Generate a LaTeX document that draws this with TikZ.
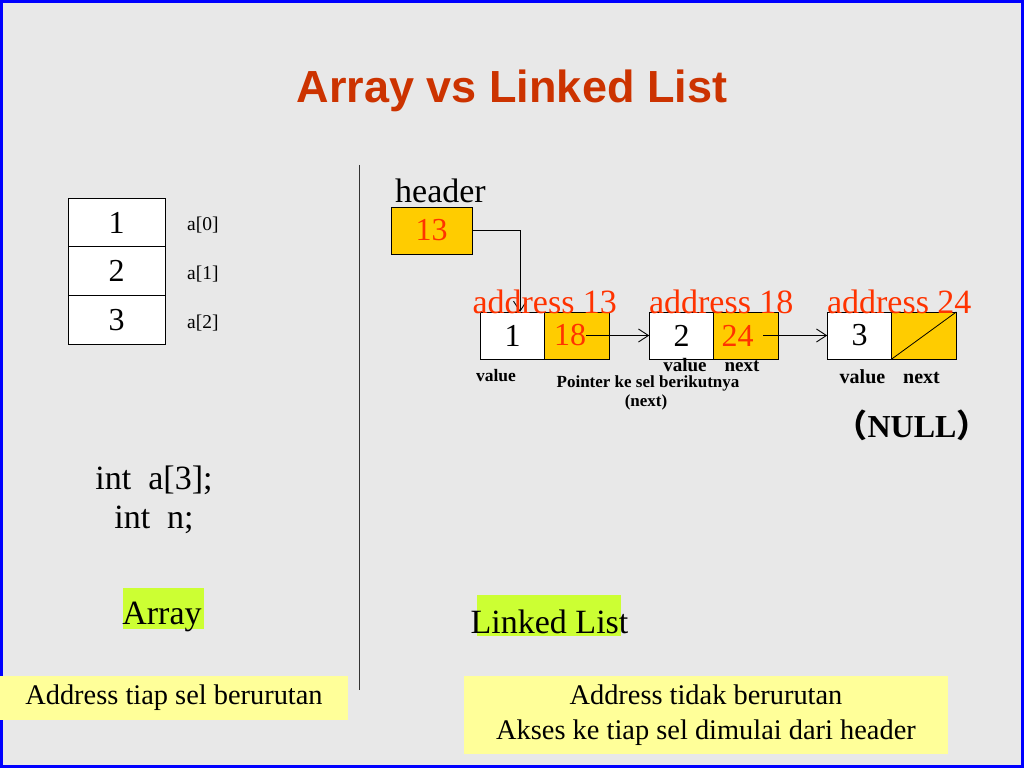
\documentclass[tikz,border=0pt]{standalone}
\usepackage{fontspec}
\setmainfont{Liberation Serif}
\newfontfamily\titlefont{Liberation Sans}
\newfontfamily\cjk{Noto Sans CJK SC}
\usetikzlibrary{positioning,arrows.meta}
\definecolor{slidebg}{HTML}{E8E8E8}
\definecolor{titlered}{HTML}{CC3300}
\definecolor{cellorange}{HTML}{FFCC00}
\definecolor{addrred}{HTML}{FF3300}
\definecolor{hlgreen}{HTML}{CCFF33}
\definecolor{noteyellow}{HTML}{FFFF99}

\begin{document}
\begin{tikzpicture}[x=1pt,y=1pt,
  >={Straight Barb[length=10pt,width=13pt]},
  cell/.style={draw,line width=0.8pt,fill=white,inner sep=0pt,outer sep=0pt,
    minimum width=64.5pt,minimum height=47pt,font=\fontsize{32}{36}\selectfont},
  ptr/.style={cell,fill=cellorange},
  arr/.style={cell,minimum width=97pt,minimum height=48.7pt},
  idx/.style={inner sep=0pt,font=\fontsize{19.5}{22}\selectfont},
  body/.style={inner sep=0pt,font=\fontsize{34}{39}\selectfont},
  addr/.style={inner sep=0pt,anchor=base,text=addrred,font=\fontsize{34}{39}\selectfont},
  num/.style={inner sep=0pt,text=addrred,font=\fontsize{32}{36}\selectfont},
  tag/.style={inner sep=0pt,anchor=base,font=\bfseries\fontsize{#1}{#1}\selectfont},
  tag/.default=17.5,
  note/.style={fill=noteyellow,inner sep=0pt,align=center,font=\fontsize{28.4}{35}\selectfont},
  hilite/.style={fill=hlgreen,inner sep=0pt},
  link/.style={->,line width=0.9pt}]
\fill[slidebg] (0,0) rectangle (1024,768);
\draw[blue,line width=3pt] (1.5,1.5) rectangle (1022.5,766.5);
\useasboundingbox (0,0) rectangle (1024,768);

\node[anchor=base,inner sep=0pt,text=titlered,font=\titlefont\bfseries\fontsize{45}{54}\selectfont] (title) at (512,665) {Array vs Linked List};

% divider
\coordinate (dtop) at (359,603);
\coordinate (dbot) at (359,78);
\draw[line width=0.9pt,black!80] (dtop) -- (dbot);

% array side
\node[arr] (a0) at (116.5,545.5) {1};
\node[arr,below=0pt of a0] (a1) {2};
\node[arr,below=0pt of a1] (a2) {3};
\node[idx,right=22pt of a0,yshift=-3pt] (i0) {a[0]};
\node[idx,right=22pt of a1,yshift=-3pt] (i1) {a[1]};
\node[idx,right=22pt of a2,yshift=-3pt] (i2) {a[2]};
\node[body,align=center] (decl) at (154,268) {int\ \ a[3];\\int\ \ n;};
\node[hilite,minimum width=81pt,minimum height=41pt] (arrhl) at (163.5,159.5) {};
\node[body,anchor=base] (arrlbl) at (162,143) {Array};
\node[note,minimum width=348pt,minimum height=44pt] (arrnote) at (174,70) {Address tiap sel berurutan};

% linked list side
\node[body,anchor=base west] (hdrlbl) at (395,565) {header};
\node[ptr,minimum width=81pt,text=addrred] (hdr) at (431.5,537.5) {13};
\node[cell] (n1v) at (512.5,432.5) {1};
\node[ptr,right=0pt of n1v] (n1p) {};
\node[cell,right=40pt of n1p] (n2v) {2};
\node[ptr,right=0pt of n2v] (n2p) {};
\node[cell,right=49pt of n2p] (n3v) {3};
\node[ptr,right=0pt of n3v] (n3p) {};
\node[num] (t18) at ([xshift=-7pt]n1p.center) {18};
\node[num] (t24) at ([xshift=-8.5pt]n2p.center) {24};
\draw[link] (t18.east) -- (n2v.west);
\draw[link] ([xshift=9.5pt]t24.east) -- (n3v.west);
\draw[line width=0.8pt] (n3p.south west) -- (n3p.north east);
\draw[link] (hdr.east) -| ([xshift=7.5pt]n1v.north);

\node[addr] (ad13) at ([yshift=-2pt]n1v.north east) {address 13};
\node[addr] (ad18) at ([xshift=7.5pt,yshift=-2pt]n2v.north east) {address 18};
\node[addr] (ad24) at ([xshift=7.5pt,yshift=-2pt]n3v.north east) {address 24};

\node[tag] (v1) at (496,386) {value};
\node[tag=17] (ptrnote) at (648,380) {Pointer ke sel berikutnya};
\node[tag=17] (ptrnext) at (646,361) {(next)};
\node[tag=19] (v2) at (685,396) {value};
\node[tag=19] (x2) at (742,396) {next};
\node[tag=20] (v3) at (862.5,384) {value};
\node[tag=20] (x3) at (921.5,384) {next};
\node[inner sep=0pt,anchor=base,font=\bfseries\fontsize{32}{36}\selectfont] (null) at (912,330) {{\cjk （}NULL{\cjk ）}};

\node[hilite,minimum width=144pt,minimum height=41pt] (llhl) at (549,152.5) {};
\node[body,anchor=base] (lllbl) at (549.5,135) {Linked List};
\node[note,minimum width=484pt,minimum height=78pt] (llnote) at (706,53) {Address tidak berurutan\\Akses ke tiap sel dimulai dari header};
\end{tikzpicture}
\end{document}
